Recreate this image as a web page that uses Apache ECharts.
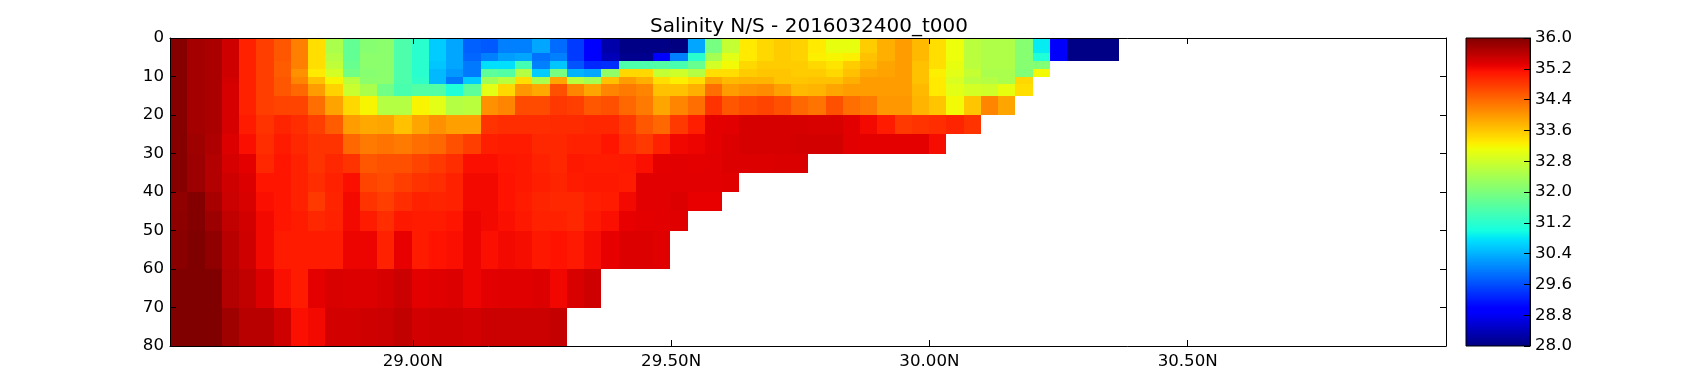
<!DOCTYPE html>
<html>
<head>
<meta charset="utf-8">
<title>Salinity N/S - 2016032400_t000</title>
<script src="https://cdn.jsdelivr.net/npm/echarts@6/dist/echarts.min.js"></script>
<style>
html, body { margin: 0; padding: 0; background: #fff; }
#chart { width: 1700px; height: 384px; }
</style>
</head>
<body>
<div id="chart"></div>
<script>
// cell edges
var latEdges = [
	28.53, 28.5634, 28.5968, 28.6302, 28.6636, 28.697, 28.7304, 28.7638, 28.7972, 28.8306,
	28.864, 28.8974, 28.9308, 28.9642, 28.9976, 29.031, 29.0644, 29.0978, 29.1312, 29.1646,
	29.198, 29.2314, 29.2648, 29.2982, 29.3316, 29.365, 29.3984, 29.4318, 29.4652, 29.4986,
	29.532, 29.5654, 29.5988, 29.6322, 29.6656, 29.699, 29.7324, 29.7658, 29.7992, 29.8326,
	29.866, 29.8994, 29.9328, 29.9662, 29.9996, 30.033, 30.0664, 30.0998, 30.1332, 30.1666,
	30.2, 30.2334, 30.2668, 30.3002, 30.3336, 30.367
];
var depthEdges = [0, 4, 6, 8, 10, 12, 15, 20, 25, 30, 35, 40, 45, 50, 60, 70, 80];

// salinity per depth layer, south to north
var sal0to4 = [35.95, 35.75, 35.7, 35.45, 35.0, 34.75, 34.55, 34.2, 33.4, 32.45, 31.75, 32.1, 32.15, 31.55, 31.2, 30.6, 30.3, 29.75, 29.7, 30.0,
	30.0, 30.3, 29.85, 29.45, 28.95, 28.3, 28.05, 28.05, 28.05, 28.0, 30.3, 31.95, 32.7, 33.3, 33.45, 33.55, 33.5, 33.3, 33.05, 33.05,
	33.55, 33.8, 33.95, 33.7, 33.4, 33.1, 32.6, 32.5, 32.5, 32.1, 30.85, 28.85, 28.05, 28.05, 28.05];
var sal4to6 = [35.95, 35.75, 35.7, 35.45, 35.0, 34.75, 34.55, 34.2, 33.4, 32.55, 31.75, 32.15, 32.15, 31.55, 31.2, 30.6, 30.3, 29.8, 30.0, 30.25,
	30.3, 29.9, 30.0, 29.45, 28.95, 28.4, 28.1, 28.1, 28.95, 30.0, 31.2, 32.4, 33.0, 33.3, 33.45, 33.55, 33.5, 33.25, 33.2, 33.25,
	33.65, 33.8, 33.95, 33.7, 33.4, 33.1, 32.6, 32.5, 32.5, 32.1, 31.1, 28.85, 28.05, 28.05, 28.05];
var sal6to8 = [35.95, 35.75, 35.7, 35.45, 35.0, 34.75, 34.5, 34.2, 33.4, 32.65, 31.8, 32.15, 32.15, 31.55, 31.2, 30.55, 30.3, 29.95, 30.75, 30.75,
	31.45, 30.0, 30.55, 29.65, 29.3, 29.35, 31.55, 31.55, 31.6, 31.5, 31.8, 32.85, 33.15, 33.45, 33.55, 33.55, 33.55, 33.45, 33.35, 33.55,
	33.7, 33.88, 33.95, 33.65, 33.4, 33.05, 32.6, 32.5, 32.5, 32.1, 32.05];
var sal8to10 = [35.95, 35.75, 35.7, 35.45, 35.0, 34.75, 34.5, 34.05, 33.3, 32.85, 31.9, 32.1, 32.15, 31.55, 31.2, 30.45, 30.2, 29.95, 31.7, 31.6,
	32.55, 30.6, 31.95, 30.4, 30.3, 32.2, 33.45, 33.45, 32.7, 32.8, 32.55, 33.4, 33.4, 33.55, 33.6, 33.6, 33.55, 33.55, 33.45, 33.65,
	33.85, 33.9, 33.95, 33.65, 33.25, 33.0, 32.7, 32.45, 32.45, 32.05, 33.15];
var sal10to12 = [35.95, 35.75, 35.7, 35.42, 35.0, 34.75, 34.55, 34.15, 33.65, 33.2, 32.6, 32.15, 32.15, 31.55, 31.25, 30.45, 29.95, 30.6, 32.35, 32.6,
	33.4, 32.45, 33.88, 32.6, 32.4, 33.65, 33.95, 33.8, 33.4, 33.25, 33.4, 33.88, 33.7, 33.75, 33.75, 33.6, 33.6, 33.65, 33.65, 33.8,
	33.95, 33.95, 33.95, 33.65, 33.3, 32.9, 32.6, 32.55, 32.45, 33.45];
var sal12to15 = [35.95, 35.75, 35.7, 35.4, 35.0, 34.75, 34.55, 34.4, 33.95, 33.5, 32.75, 32.45, 31.9, 31.5, 31.6, 31.6, 31.1, 31.7, 33.0, 33.45,
	34.0, 33.85, 34.6, 34.15, 33.88, 34.15, 34.25, 34.15, 33.65, 33.65, 33.8, 34.35, 33.95, 34.05, 34.1, 33.93, 33.7, 33.75, 33.88, 33.95,
	33.95, 33.95, 33.95, 33.7, 33.3, 33.0, 32.85, 32.8, 33.05, 33.4];
var sal15to20 = [35.95, 35.75, 35.7, 35.4, 35.0, 34.75, 34.7, 34.7, 34.35, 33.9, 33.45, 33.2, 32.55, 32.55, 33.22, 33.0, 32.55, 32.6, 34.05, 34.15,
	34.65, 34.65, 34.82, 34.75, 34.55, 34.6, 34.4, 34.25, 33.88, 34.15, 34.35, 34.85, 34.55, 34.65, 34.7, 34.6, 34.4, 34.3, 34.6, 34.35,
	34.25, 34.0, 34.0, 33.75, 33.6, 33.15, 33.6, 34.15, 33.88];
var sal20to25 = [35.95, 35.75, 35.7, 35.4, 35.05, 34.85, 34.98, 34.9, 34.75, 34.5, 33.95, 33.85, 33.88, 33.65, 33.88, 34.05, 33.93, 33.93, 34.85, 34.9,
	34.9, 34.9, 34.92, 34.92, 34.95, 34.95, 34.8, 34.55, 34.4, 34.8, 35.02, 35.3, 35.32, 35.4, 35.4, 35.4, 35.4, 35.38, 35.38, 35.32,
	35.2, 35.05, 34.8, 34.85, 34.9, 34.98, 34.85];
var sal25to30 = [35.95, 35.78, 35.68, 35.35, 35.15, 34.9, 35.05, 34.95, 34.85, 34.85, 34.4, 34.25, 34.3, 34.25, 34.35, 34.4, 34.6, 34.75, 35.02, 35.05,
	35.05, 34.95, 34.95, 35.0, 35.0, 35.1, 34.9, 34.8, 35.0, 35.22, 35.25, 35.3, 35.35, 35.4, 35.4, 35.4, 35.42, 35.42, 35.42, 35.32,
	35.3, 35.3, 35.3, 35.3, 35.18];
var sal30to35 = [35.95, 35.8, 35.65, 35.4, 35.3, 34.95, 35.1, 35.0, 34.85, 34.95, 34.85, 34.55, 34.6, 34.6, 34.7, 34.8, 34.9, 35.15, 35.15, 35.1,
	35.08, 35.0, 34.95, 35.08, 35.05, 35.05, 35.07, 35.15, 35.3, 35.32, 35.3, 35.32, 35.35, 35.36, 35.36, 35.37, 35.37];
var sal35to40 = [35.95, 35.8, 35.65, 35.45, 35.35, 35.1, 35.1, 35.0, 34.9, 35.0, 35.15, 34.7, 34.65, 34.75, 34.85, 34.9, 35.0, 35.2, 35.2, 35.12,
	35.08, 35.02, 34.98, 35.05, 35.08, 35.08, 35.05, 35.32, 35.32, 35.32, 35.32, 35.32, 35.33];
var sal40to45 = [35.88, 35.97, 35.72, 35.48, 35.38, 35.15, 35.1, 35.0, 34.8, 34.98, 35.2, 34.85, 34.75, 34.9, 35.0, 34.98, 35.0, 35.2, 35.2, 35.12,
	35.05, 34.98, 34.95, 34.95, 35.02, 35.05, 35.2, 35.32, 35.32, 35.36, 35.28, 35.28];
var sal45to50 = [35.9, 35.97, 35.8, 35.55, 35.42, 35.2, 35.1, 35.05, 34.95, 35.0, 35.2, 35.05, 34.9, 35.08, 35.05, 35.05, 35.1, 35.25, 35.2, 35.15,
	35.08, 35.0, 35.0, 34.95, 35.08, 35.15, 35.28, 35.3, 35.32, 35.33];
var sal50to60 = [35.93, 36.0, 35.88, 35.6, 35.45, 35.2, 35.05, 35.05, 35.05, 35.05, 35.25, 35.25, 35.0, 35.28, 35.05, 35.12, 35.15, 35.25, 35.15, 35.2,
	35.17, 35.08, 35.12, 35.07, 35.18, 35.28, 35.36, 35.36, 35.33];
var sal60to70 = [36.0, 36.0, 36.0, 35.65, 35.55, 35.35, 35.15, 35.05, 35.3, 35.38, 35.35, 35.35, 35.4, 35.48, 35.3, 35.33, 35.35, 35.25, 35.32, 35.33,
	35.33, 35.35, 35.22, 35.38, 35.45];
var sal70to80 = [36.0, 36.0, 36.0, 35.78, 35.6, 35.6, 35.45, 35.15, 35.2, 35.42, 35.42, 35.45, 35.48, 35.55, 35.43, 35.45, 35.45, 35.43, 35.48, 35.48,
	35.48, 35.48, 35.52];

var salLayers = [sal0to4, sal4to6, sal6to8, sal8to10, sal10to12, sal12to15, sal15to20, sal20to25,
	sal25to30, sal30to35, sal35to40, sal40to45, sal45to50, sal50to60, sal60to70, sal70to80];

var latTicks = [29, 29.5, 30, 30.5];
var salMin = 28;
var salMax = 36;

// matplotlib jet
function jet(t) {
	function ramp(pts) {
		for (var i = 1; i < pts.length; i++) {
			if (t <= pts[i][0]) {
				var k = (t - pts[i - 1][0]) / (pts[i][0] - pts[i - 1][0]);
				return Math.round(255 * (pts[i - 1][1] + k * (pts[i][1] - pts[i - 1][1])));
			}
		}
		return Math.round(255 * pts[pts.length - 1][1]);
	}
	var r = ramp([[0, 0], [0.35, 0], [0.66, 1], [0.89, 1], [1, 0.5]]);
	var g = ramp([[0, 0], [0.125, 0], [0.375, 1], [0.64, 1], [0.91, 0], [1, 0]]);
	var b = ramp([[0, 0.5], [0.11, 1], [0.34, 1], [0.65, 0], [1, 0]]);
	return 'rgb(' + r + ',' + g + ',' + b + ')';
}
var jetColors = [];
for (var c = 0; c <= 200; c++) {
	jetColors.push(jet(c / 200));
}

var cells = [];
salLayers.forEach(function (layer, row) {
	layer.forEach(function (sal, col) {
		cells.push([latEdges[col], latEdges[col + 1], depthEdges[row], depthEdges[row + 1], sal]);
	});
});

var font = 'DejaVu Sans';
var chart = echarts.init(document.getElementById('chart'), null, { renderer: 'canvas' });

chart.setOption({
	animation: false,
	backgroundColor: '#fff',
	title: {
		text: 'Salinity N/S - 2016032400_t000',
		left: 804,
		top: 12,
		textAlign: 'center',
		textStyle: { fontFamily: font, fontSize: 20, fontWeight: 'normal', color: '#000' }
	},
	visualMap: {
		show: false,
		seriesIndex: 0,
		dimension: 4,
		min: salMin,
		max: salMax,
		inRange: { color: jetColors }
	},
	grid: [
		{ left: 170, top: 38, width: 1276, height: 308 },
		{ left: 1466, top: 38, width: 64, height: 308 }
	],
	xAxis: [
		{
			type: 'value', gridIndex: 0, position: 'bottom', min: 28.53, max: 31.0, z: 5,
			splitLine: { show: false },
			axisLine: { onZero: false, lineStyle: { color: '#000', width: 1 } },
			axisTick: { inside: true, length: 6, customValues: latTicks, lineStyle: { color: '#000' } },
			axisLabel: {
				customValues: latTicks, margin: 7, color: '#000', fontFamily: font, fontSize: 16.67,
				formatter: function (v) { return v.toFixed(2) + 'N'; }
			}
		},
		{
			type: 'value', gridIndex: 0, position: 'top', min: 28.53, max: 31.0, z: 5,
			splitLine: { show: false },
			axisLine: { onZero: false, lineStyle: { color: '#000', width: 1 } },
			axisTick: { inside: true, length: 6, customValues: latTicks, lineStyle: { color: '#000' } },
			axisLabel: { show: false }
		},
		{
			type: 'value', gridIndex: 1, min: 0, max: 1, show: false
		}
	],
	yAxis: [
		{
			type: 'value', gridIndex: 0, position: 'left', inverse: true, min: 0, max: 80, interval: 10, z: 5,
			splitLine: { show: false },
			axisLine: { show: true, onZero: false, lineStyle: { color: '#000', width: 1 } },
			axisTick: { show: true, inside: true, length: 6, lineStyle: { color: '#000' } },
			axisLabel: { margin: 6, color: '#000', fontFamily: font, fontSize: 16.67 }
		},
		{
			type: 'value', gridIndex: 0, position: 'right', inverse: true, min: 0, max: 80, interval: 10, z: 5,
			splitLine: { show: false },
			axisLine: { show: true, onZero: false, lineStyle: { color: '#000', width: 1 } },
			axisTick: { show: true, inside: true, length: 6, lineStyle: { color: '#000' } },
			axisLabel: { show: false }
		},
		{
			type: 'value', gridIndex: 1, position: 'right', min: salMin, max: salMax, interval: 0.8, z: 5,
			splitLine: { show: false },
			axisLine: { show: true, onZero: false, lineStyle: { color: '#000', width: 1 } },
			axisTick: { show: true, inside: true, length: 6, lineStyle: { color: '#000' } },
			axisLabel: {
				margin: 5, color: '#000', fontFamily: font, fontSize: 16.67,
				formatter: function (v) { return v.toFixed(1); }
			}
		}
	],
	series: [
		{
			type: 'custom',
			xAxisIndex: 0,
			yAxisIndex: 0,
			coordinateSystem: 'cartesian2d',
			encode: { x: [0, 1], y: [2, 3] },
			data: cells,
			renderItem: function (params, api) {
				var a = api.coord([api.value(0), api.value(2)]);
				var b = api.coord([api.value(1), api.value(3)]);
				var x0 = Math.round(a[0]), y0 = Math.round(a[1]);
				return {
					type: 'rect',
					shape: { x: x0, y: y0, width: Math.round(b[0]) - x0, height: Math.round(b[1]) - y0 },
					style: { fill: api.visual('color') }
				};
			}
		},
		{
			type: 'custom',
			xAxisIndex: 2,
			yAxisIndex: 2,
			coordinateSystem: 'cartesian2d',
			encode: { x: [0, 1], y: [2, 3] },
			data: [[0, 1, salMin, salMax]],
			z: 1,
			renderItem: function (params, api) {
				var a = api.coord([api.value(0), api.value(3)]);
				var b = api.coord([api.value(1), api.value(2)]);
				var stops = jetColors.map(function (col, i) {
					return { offset: 1 - i / (jetColors.length - 1), color: col };
				}).reverse();
				return {
					type: 'rect',
					shape: { x: a[0], y: a[1], width: b[0] - a[0], height: b[1] - a[1] },
					style: {
						fill: new echarts.graphic.LinearGradient(0, 0, 0, 1, stops),
						stroke: '#000',
						lineWidth: 1
					}
				};
			}
		}
	]
});
</script>
</body>
</html>
